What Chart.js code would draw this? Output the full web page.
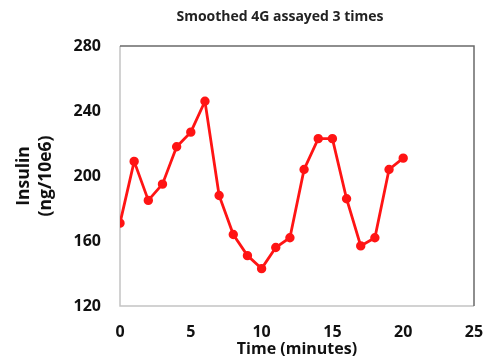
<!DOCTYPE html>
<html>
<head>
<meta charset="utf-8">
<script src="https://cdn.jsdelivr.net/npm/chart.js@4/dist/chart.umd.min.js"></script>
<style>
 html, body { margin: 0; padding: 0; background: #fff; }
 #wrap { width: 485px; height: 362px; }
</style>
</head>
<body>
<div id="wrap"><canvas id="chart" width="485" height="362"></canvas></div>
<script>
// values
const chartTitle = "Smoothed 4G assayed 3 times";
const times = [0, 1, 2, 3, 4, 5, 6, 7, 8, 9, 10, 11, 12, 13, 14, 15, 16, 17, 18, 19, 20];
const insulin = [171, 209, 185, 195, 218, 227, 246, 188, 164, 151, 143, 156, 162, 204, 223, 223, 186, 157, 162, 204, 211];
const xTicks = [0, 5, 10, 15, 20, 25];
const yTicks = [120, 160, 200, 240, 280];

const ctx = document.getElementById("chart").getContext("2d");

const fontName = "'Open Sans', 'Noto Sans', sans-serif";
Chart.defaults.font.family = fontName;
Chart.defaults.color = "#111";

// box round the plot: light left/bottom, darker top/right
const plotBox = {
 id: "plotBox",
 beforeDatasetsDraw(chart) {
  const { left, right, top, bottom } = chart.chartArea;
  const c = chart.ctx;
  c.save();
  c.lineWidth = 1.5;
  c.strokeStyle = "#c4c4c4";
  c.beginPath();
  c.moveTo(left, top);
  c.lineTo(left, bottom);
  c.lineTo(right, bottom);
  c.stroke();
  c.strokeStyle = "#6a6a6a";
  c.beginPath();
  c.moveTo(left, top);
  c.lineTo(right, top);
  c.lineTo(right, bottom);
  c.stroke();
  c.restore();
 },
 afterDraw(chart) {
  const c = chart.ctx;
  c.save();
  c.font = "bold 14px " + fontName;
  c.fillStyle = "#222";
  c.textAlign = "center";
  c.textBaseline = "middle";
  c.fillText(chartTitle, 280, 17);
  c.restore();
 },
};

new Chart(ctx, {
 type: "line",
 plugins: [plotBox],
 data: {
  datasets: [
   {
    data: times.map((t, i) => ({ x: t, y: insulin[i] })),
    borderColor: "#ff1414",
    backgroundColor: "#ff1414",
    borderWidth: 2.8,
    pointRadius: 3.3,
    pointHoverRadius: 3.3,
    tension: 0,
   },
  ],
 },
 options: {
  responsive: false,
  animation: false,
  layout: { padding: { top: 46, right: 11, left: 0, bottom: 0 } },
  plugins: {
   legend: { display: false },
   tooltip: { enabled: false },
  },
  scales: {
   x: {
    type: "linear",
    min: 0,
    max: 25,
    afterBuildTicks: (scale) => {
     scale.ticks = xTicks.map((v) => ({ value: v }));
    },
    afterFit: (scale) => {
     scale.height = 56;
     scale.paddingLeft = 0;
     scale.paddingRight = 0;
    },
    grid: { display: false, drawTicks: false },
    border: { display: false },
    ticks: {
     padding: 17,
     maxRotation: 0,
     font: { size: 16, weight: "bold" },
    },
    title: {
     display: true,
     text: "Time (minutes)",
     font: { size: 16, weight: "bold" },
     padding: { top: 0, bottom: 3 },
    },
   },
   y: {
    min: 120,
    max: 280,
    afterBuildTicks: (scale) => {
     scale.ticks = yTicks.map((v) => ({ value: v }));
    },
    afterFit: (scale) => {
     scale.width = 120;
    },
    grid: { display: false, drawTicks: false },
    border: { display: false },
    ticks: {
     padding: 19,
     font: { size: 16, weight: "bold" },
    },
    title: {
     display: true,
     text: ["Insulin", "(ng/10e6)"],
     font: { size: 17.5, weight: "bold", lineHeight: 1.26 },
     padding: { top: 13, bottom: 0 },
    },
   },
  },
 },
});
</script>
</body>
</html>
